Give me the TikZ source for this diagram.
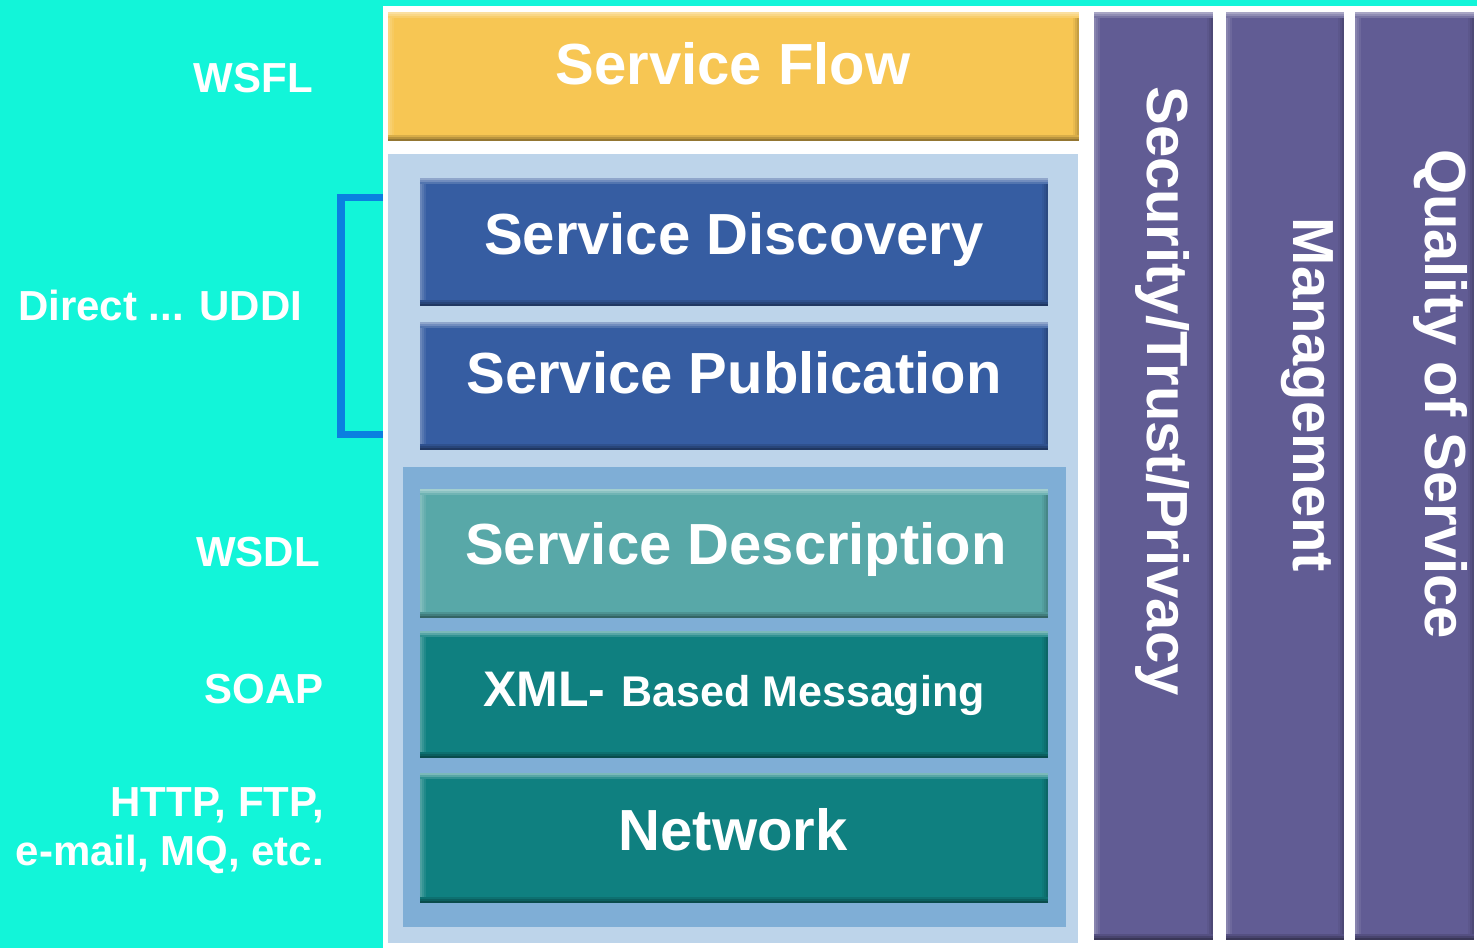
\documentclass[tikz,border=0pt]{standalone}
\usepackage{fontspec}
\setmainfont{Liberation Sans}
\definecolor{cyanbg}{RGB}{18,245,217}
\definecolor{flowyellow}{RGB}{247,198,83}
\definecolor{lightblue}{RGB}{189,212,234}
\definecolor{midblue}{RGB}{127,174,214}
\definecolor{darkblue}{RGB}{54,93,162}
\definecolor{tealA}{RGB}{88,168,168}
\definecolor{tealB}{RGB}{15,128,128}
\definecolor{purplecol}{RGB}{97,92,148}
\definecolor{bracketblue}{RGB}{10,128,224}
\begin{document}
\begin{tikzpicture}[x=1pt,y=-1pt,
  bevel/.style={path picture={
    \foreach \s/\o in {0/.45,2/.3,4/.15}{
      \fill[white,opacity=\o] ([yshift=-\s pt]path picture bounding box.north west) rectangle ([yshift=-\s pt-2pt]path picture bounding box.north east);
    }
    \foreach \s/\o in {0/.25,2/.16,4/.08}{
      \fill[white,opacity=\o] ([xshift=\s pt,yshift=-6pt]path picture bounding box.north west) rectangle ([xshift=\s pt+2pt,yshift=6pt]path picture bounding box.south west);
    }
    \foreach \s/\o in {0/.4,2/.25,4/.12}{
      \fill[black,opacity=\o] ([yshift=\s pt]path picture bounding box.south west) rectangle ([yshift=\s pt+2pt]path picture bounding box.south east);
    }
    \foreach \s/\o in {0/.2,2/.12,4/.05}{
      \fill[black,opacity=\o] ([xshift=-\s pt,yshift=6pt]path picture bounding box.south east) rectangle ([xshift=-\s pt-2pt,yshift=-6pt]path picture bounding box.north east);
    }
  }},
  layer/.style={anchor=north west, inner sep=0pt, draw=none},
  box/.style={layer, bevel},
  boxtxt/.style={text=white, inner sep=0pt, font=\fontsize{58}{60}\selectfont\bfseries},
  sidetxt/.style={text=white, inner sep=0pt, font=\fontsize{42}{46}\selectfont\bfseries},
]
\useasboundingbox (0,0) rectangle (1477,948);
\node[layer, fill=cyanbg, minimum width=1477pt, minimum height=948pt] (bg) at (0,0) {};
\node[layer, fill=white, minimum width=1094pt, minimum height=942pt] (panel) at (383,6) {};

% main stack
\node[box, fill=flowyellow, minimum width=691pt, minimum height=129pt] (sf) at (388,12) {};
\node[layer, fill=lightblue, minimum width=690pt, minimum height=789pt] (outer) at (388,154) {};
\node[box, fill=darkblue, minimum width=628pt, minimum height=128pt] (disc) at (420,178) {};
\node[box, fill=darkblue, minimum width=628pt, minimum height=128pt] (pub) at (420,322) {};
\node[layer, fill=midblue, minimum width=663pt, minimum height=460pt] (inner) at (403,467) {};
\node[box, fill=tealA, minimum width=628pt, minimum height=129pt] (desc) at (420,489) {};
\node[box, fill=tealB, minimum width=628pt, minimum height=127pt] (xml) at (420,631) {};
\node[box, fill=tealB, minimum width=628pt, minimum height=130pt] (net) at (420,773) {};

\node[boxtxt, anchor=base] (sft) at (733,84) {Service Flow};
\node[boxtxt, anchor=base] (disct) at (734,254) {Service Discovery};
\node[boxtxt, anchor=base] (pubt) at (734,393) {Service Publication};
\node[boxtxt, anchor=base] (desct) at (736,564) {Service Description};
\node[boxtxt, anchor=base] (xmlt) at (734,706) {{\fontsize{50}{50}\selectfont XML-} {\fontsize{43}{43}\selectfont Based Messaging}};
\node[boxtxt, anchor=base] (nett) at (733,850) {Network};

% vertical columns
\node[box, fill=purplecol, minimum width=119pt, minimum height=928pt] (sec) at (1094,12) {};
\node[box, fill=purplecol, minimum width=118pt, minimum height=928pt] (mgmt) at (1226,12) {};
\node[box, fill=purplecol, minimum width=119pt, minimum height=928pt] (qos) at (1355,12) {};
\node[boxtxt, rotate=-90] (sect) at (1162.5,391) {Security/Trust/Privacy};
\node[boxtxt, rotate=-90] (mgmtt) at (1307,395) {Management};
\node[boxtxt, rotate=-90] (qost) at (1440,394) {Quality of Service};

% left labels
\node[sidetxt, anchor=base east] (wsfl) at (313,92) {WSFL};
\node[sidetxt, anchor=base west] (uddi) at (18,320) {Direct ... UDDI};
\node[sidetxt, anchor=base east] (wsdl) at (320,566) {WSDL};
\node[sidetxt, anchor=base east] (soap) at (324,703) {SOAP};
\node[sidetxt, anchor=base east] (http1) at (324,816) {HTTP, FTP,};
\node[sidetxt, anchor=base east] (http2) at (324,865) {e-mail, MQ, etc.};

% bracket
\coordinate (bt) at (383,197.5);
\coordinate (bb) at (383,434.5);
\draw[bracketblue, line width=7.5pt] (bt) -- (341,197.5) -- (341,434.5) -- (bb);
\end{tikzpicture}
\end{document}
